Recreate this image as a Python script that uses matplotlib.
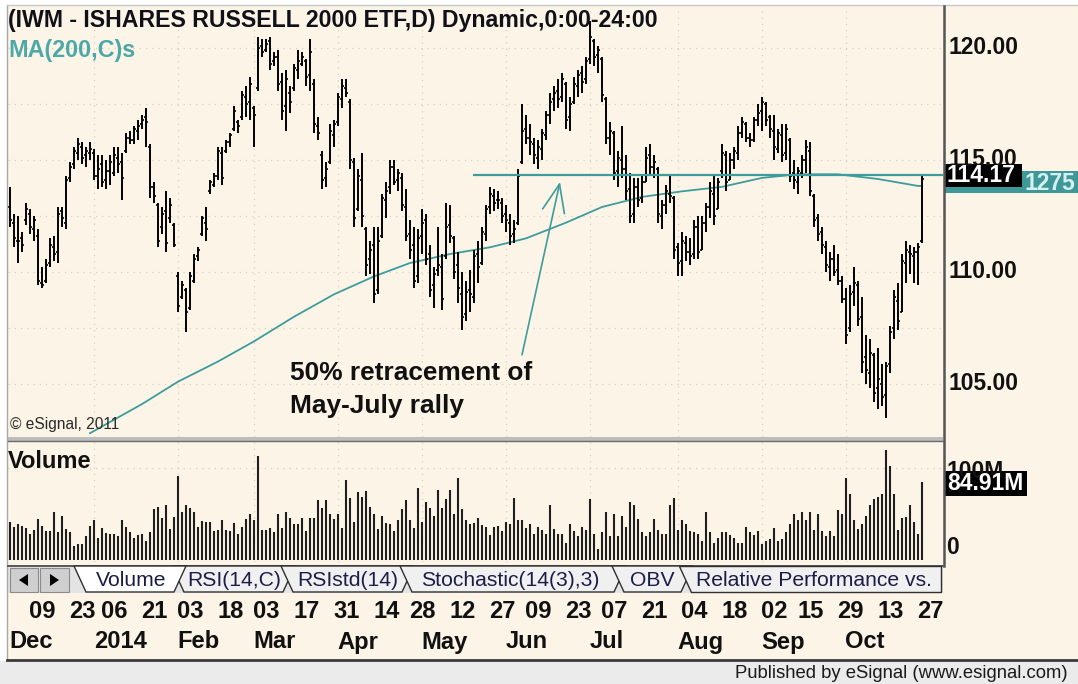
import numpy as np
import pandas as pd
import matplotlib
matplotlib.use('Agg')
import matplotlib.pyplot as plt
from matplotlib.patches import Rectangle, Polygon
from matplotlib.transforms import blended_transform_factory

# ---------------- data ----------------
holidays = ['2013-12-25', '2014-01-01', '2014-01-20', '2014-02-17', '2014-04-18',
            '2014-05-26', '2014-07-04', '2014-09-01']
dates = pd.bdate_range('2013-12-02', '2014-10-28', freq='C', holidays=holidays)

opens = [112.9,112.2,111.4,111.5,112.3,112.6,111.9,111.6,109.5,109.6,
         110.4,111.1,110.9,112.7,112.2,114.2,114.8,115.3,115.6,115.2,
         115.3,115.3,114.3,114.8,114.1,114.5,
         114.4,115.1,114.9,115.4,116.0,115.9,116.3,116.6,116.9,115.6,
         113.8,113.0,112.0,112.7,112.4,112.1,109.8,108.9,109.2,108.4,
         109.6,110.7,111.7,112.2,113.6,113.9,114.3,115.3,115.4,115.8,
         116.4,116.7,116.9,117.8,117.6,117.3,118.2,120.1,119.9,120.3,
         119.4,119.6,118.5,117.4,118.0,118.2,119.0,119.3,119.4,118.8,
         118.4,116.5,115.2,114.2,114.9,116.1,116.7,117.7,118.2,117.6,
         114.9,112.8,114.1,111.9,110.6,111.2,109.2,111.6,113.2,113.8,
         114.7,114.1,114.2,112.9,111.7,111.2,109.8,111.6,
         112.3,110.8,109.4,110.1,110.2,110.7,112.1,111.5,110.3,109.0,
         108.1,109.2,108.9,110.8,110.4,111.7,112.9,113.4,113.2,113.1,
         112.6,112.2,111.7,112.2,114.9,116.4,116.0,115.7,115.1,115.5,
         116.1,117.0,117.7,118.1,117.8,118.4,116.9,117.6,118.3,118.9,
         118.6,119.5,120.3,119.7,119.5,117.7,116.0,116.2,114.5,115.0,
         114.6,113.7,112.6,113.8,113.3,114.0,115.2,114.7,114.6,112.5,
         113.0,113.5,113.3,111.1,110.5,111.3,110.9,110.8,112.0,111.0,
         112.2,112.9,113.5,112.8,
         114.5,115.2,114.1,115.0,115.3,116.2,116.6,116.0,115.9,116.8,
         117.2,117.5,116.9,116.3,115.5,116.1,115.3,115.9,114.4,114.0,
         114.4,115.0,115.4,113.4,112.4,111.8,111.1,110.2,110.6,110.1,
         109.6,108.8,107.5,109.1,109.4,108.0,106.2,105.5,106.3,104.8,
         105.0,104.5,105.9,107.5,108.7,108.2,110.4,110.9,110.7,110.9,111.4]

highs = [113.8,112.6,112.5,111.8,113.1,112.8,112.5,111.9,110.2,110.6,
         111.5,111.6,112.9,112.9,114.3,114.9,115.6,116.0,115.8,115.6,
         115.8,115.5,115.2,115.2,115.0,115.2,
         115.6,115.6,115.3,116.2,116.3,116.5,116.8,117.0,117.3,115.7,
         114.0,113.1,112.9,113.6,113.3,112.2,110.0,109.6,109.3,110.0,
         110.8,111.1,112.5,112.9,114.1,114.4,115.6,115.6,115.9,116.2,
         117.4,116.8,118.1,118.3,118.7,117.4,120.5,120.4,120.4,120.5,
         119.8,119.9,118.9,119.0,118.3,119.3,119.9,119.8,119.5,120.4,
         118.6,116.9,115.4,114.9,116.6,116.8,118.0,118.6,118.6,117.7,
         115.1,114.6,115.3,112.0,111.4,112.0,112.0,113.5,114.0,115.0,
         115.0,114.6,114.4,113.7,112.3,112.0,111.9,112.8,
         112.6,111.2,110.2,112.0,110.8,113.1,113.0,111.6,110.9,110.0,
         109.6,110.1,111.0,111.4,112.0,113.0,113.8,113.7,113.6,113.3,
         113.0,112.6,112.3,114.6,117.5,117.0,116.6,116.0,115.9,116.4,
         117.2,118.0,118.3,118.6,118.9,118.5,117.8,118.7,119.0,119.2,
         119.6,121.2,120.4,120.1,119.6,117.8,116.7,116.3,115.4,116.5,
         115.2,114.4,114.2,114.2,114.3,115.6,115.7,115.2,114.7,113.2,
         113.9,114.3,113.4,111.3,111.8,111.6,111.5,112.3,112.5,112.5,
         113.1,114.0,114.3,114.2,
         115.7,115.4,115.3,115.6,116.5,116.9,116.7,116.2,116.9,117.5,
         117.8,117.6,117.0,117.0,116.4,116.6,116.6,116.0,115.0,114.7,
         115.2,115.9,115.8,113.5,112.6,112.0,111.4,110.9,111.2,110.8,
         109.8,109.3,109.4,110.2,109.6,108.9,107.2,107.0,106.4,106.6,
         105.9,106.0,107.6,109.2,109.5,110.8,111.4,111.2,111.1,111.3,114.3]

lows = [112.0,111.1,110.4,110.9,112.1,111.7,111.4,109.4,109.3,109.5,
        110.2,110.5,110.4,112.0,111.9,114.0,114.6,115.0,114.8,114.7,
        115.0,114.1,113.7,113.8,113.7,113.9,
        114.3,114.4,113.2,115.3,115.7,115.7,115.9,116.4,115.6,113.3,
        113.1,111.1,111.7,110.9,112.2,111.1,108.2,108.8,107.3,108.3,
        109.5,110.5,111.6,111.4,113.5,113.8,114.1,113.9,115.3,115.6,
        116.3,116.2,116.8,116.9,116.8,115.6,118.1,119.6,119.8,119.0,
        119.2,118.1,116.8,116.3,117.1,118.1,118.6,119.2,118.3,118.1,
        116.2,115.9,113.7,113.8,114.8,115.6,116.5,117.3,117.8,114.6,
        112.0,112.7,112.0,109.8,109.9,108.6,109.0,111.5,112.4,113.5,
        113.9,113.6,112.7,111.4,110.6,109.3,109.5,110.8,
        110.3,108.9,108.4,109.8,108.3,110.6,111.3,109.7,108.6,107.4,
        107.8,108.2,108.6,109.5,110.3,111.4,112.6,112.7,112.8,112.2,
        111.8,111.2,111.3,112.1,114.8,115.7,115.2,114.8,114.6,115.0,
        115.9,116.6,117.2,117.3,117.6,116.4,116.3,117.5,117.8,118.0,
        118.4,119.3,119.2,118.9,117.6,115.7,115.2,114.1,113.8,114.2,
        113.2,112.2,112.2,112.9,113.1,114.0,114.3,114.2,112.2,111.9,
        112.6,113.1,110.6,109.8,109.8,110.5,110.3,110.6,110.6,111.0,
        111.8,112.4,112.1,112.8,
        114.2,113.6,114.1,114.6,115.0,116.0,115.8,115.6,115.8,116.5,
        116.3,116.5,116.0,115.0,115.3,114.9,115.0,114.0,113.7,113.5,
        114.2,114.4,113.4,112.0,111.4,110.8,110.0,109.6,109.8,109.4,
        108.6,106.8,107.3,108.5,107.6,105.5,105.0,104.8,104.2,103.9,
        104.0,103.5,105.5,107.0,107.4,108.2,109.5,109.9,109.5,109.4,111.3]

closes = [112.3,111.5,111.4,111.2,112.8,112.0,112.3,109.6,109.4,110.3,
          111.2,110.8,112.6,112.4,114.1,114.7,115.4,115.7,115.1,115.4,
          115.5,114.3,114.6,114.0,114.5,114.9,
          115.2,114.8,114.2,116.0,115.9,116.4,116.5,116.8,116.7,113.8,
          113.4,111.4,112.6,111.3,113.0,111.2,108.5,109.4,108.2,109.8,
          110.6,111.0,112.4,111.9,114.0,114.3,115.4,114.2,115.8,116.1,
          117.2,116.5,117.9,117.5,118.4,117.0,120.0,119.8,120.2,119.3,
          119.6,118.4,117.2,118.6,117.6,119.1,119.4,119.6,118.7,119.8,
          116.6,116.2,114.1,114.6,116.3,116.6,117.8,118.3,118.0,115.0,
          112.4,114.3,112.5,110.3,111.0,109.0,111.4,113.3,113.6,114.7,
          114.0,114.4,113.0,111.6,111.0,109.6,111.5,112.2,
          110.6,109.2,109.9,110.3,108.8,112.0,111.6,110.0,109.3,108.0,
          109.1,109.0,110.7,110.2,111.8,112.8,113.5,113.1,113.2,112.5,
          112.3,111.6,111.9,114.3,116.3,116.0,115.8,115.2,115.6,116.2,
          117.0,117.6,118.0,117.7,118.6,116.8,117.5,118.4,118.8,118.5,
          119.4,120.5,119.6,119.9,117.9,116.0,116.3,114.4,115.1,114.6,
          113.6,112.5,113.8,113.2,114.0,115.1,114.7,114.9,112.6,113.0,
          113.6,113.4,111.0,110.4,111.4,110.9,110.7,112.0,110.9,112.2,
          112.9,113.6,112.5,114.0,
          115.3,114.0,115.0,115.4,116.2,116.7,116.0,115.9,116.8,117.1,
          117.6,116.8,116.4,115.6,116.2,115.2,116.4,114.3,114.1,114.5,
          115.0,115.6,113.6,112.3,111.7,111.2,110.3,110.6,110.0,109.6,
          108.8,107.2,109.0,109.5,107.9,106.0,105.6,106.4,104.6,105.2,
          104.4,105.8,107.3,108.9,107.8,110.5,111.0,110.8,110.9,111.1,114.17]

volumes = [41,36,39,37,35,28,33,45,37,31,31,52,30,48,34,
           30,
           15,17,17,
           26,37,43,24,35,29,28,28,26,43,36,30,24,27,28,21,30,
           56,58,46,60,34,47,91,52,
           60,57,52,36,42,41,
           41,31,33,43,33,31,40,28,36,45,50,44,
           113,
           33,33,35,30,
           50,35,52,46,39,39,46,31,46,46,65,57,65,50,45,50,35,
           87,67,41,74,69,75,58,50,34,48,40,
           39,32,43,56,65,44,35,78,41,
           63,57,48,76,57,66,76,50,89,55,43,39,40,46,38,
           36,27,36,37,31,41,39,67,44,43,35,
           39,28,36,33,28,60,34,28,28,18,39,32,26,36,33,66,
           28,12,30,52,26,50,26,48,36,63,60,45,30,
           26,
           30,45,33,28,28,60,67,33,43,
           39,32,30,28,21,52,30,19,24,30,
           30,27,24,18,19,36,30,27,32,17,21,23,
           35,21,23,30,39,50,44,52,43,52,33,50,31,26,
           31,26,54,50,89,72,43,34,39,48,60,66,69,72,120,102,72,33,46,47,60,41,28,84.91]

ma_dates = ['2013-12-31', '2014-01-06', '2014-01-21', '2014-02-03', '2014-02-18',
            '2014-03-03', '2014-03-17', '2014-03-31', '2014-04-14', '2014-04-28',
            '2014-05-12', '2014-05-27', '2014-06-09', '2014-06-23', '2014-07-07',
            '2014-07-21', '2014-08-04', '2014-08-18', '2014-09-02', '2014-09-15',
            '2014-09-29', '2014-10-13', '2014-10-27', '2014-10-28']
ma_values = [102.8, 103.1, 104.1, 105.1, 106.0, 106.9, 108.0, 109.0, 109.8, 110.4,
             110.8, 111.1, 111.5, 112.2, 112.9, 113.35, 113.6, 113.8, 114.2, 114.36,
             114.36, 114.15, 113.84, 113.84]

retrace_level = 114.35
retrace_start = '2014-05-20'

price_ticks = [120, 115, 110, 105]
price_tick_labels = ['120.00', '115.00', '110.00', '105.00']
last_price_label = '114.17'
last_volume_label = '84.91M'

day_tick_dates = ['2013-12-09', '2013-12-23', '2014-01-06', '2014-01-21', '2014-02-03',
                  '2014-02-18', '2014-03-03', '2014-03-17', '2014-03-31', '2014-04-14',
                  '2014-04-28', '2014-05-12', '2014-05-27', '2014-06-09', '2014-06-23',
                  '2014-07-07', '2014-07-21', '2014-08-04', '2014-08-18', '2014-09-02',
                  '2014-09-15', '2014-09-29', '2014-10-13', '2014-10-27']
month_tick_dates = ['2013-12-02', '2014-01-02', '2014-02-03', '2014-03-03', '2014-04-01',
                    '2014-05-01', '2014-06-02', '2014-07-01', '2014-08-01', '2014-09-02',
                    '2014-10-01']
month_tick_labels = ['Dec', '2014', 'Feb', 'Mar', 'Apr', 'May', 'Jun', 'Jul', 'Aug', 'Sep', 'Oct']

tab_labels = ['Volume', 'RSI(14,C)', 'RSIstd(14)', 'Stochastic(14(3),3)', 'OBV',
              'Relative Performance vs.']

# ---------------- style ----------------
W, H = 1078, 684
CREAM = '#FCF5E7'
TEAL = '#3E9C9C'
FONT = 'Liberation Sans'
INK = '#111111'
GRID = '#D9D0BF'

fig = plt.figure(figsize=(W / 100, H / 100), dpi=100)
fig.patch.set_facecolor('white')
R = fig.canvas.get_renderer()


def rect(x0, y0, x1, y1):
    return [x0 / W, 1 - y1 / H, (x1 - x0) / W, (y1 - y0) / H]


def idx(d):
    return dates.get_loc(pd.Timestamp(d))


def fit(t, width):
    w = t.get_window_extent(renderer=R).width
    t.set_fontsize(t.get_fontsize() * width / w)
    return t.get_fontsize()


# background (pixel coordinates)
bg = fig.add_axes([0, 0, 1, 1])
bg.set_xlim(0, W)
bg.set_ylim(H, 0)
bg.axis('off')
bg.add_patch(Rectangle((7, 5), W - 7, 656, fc=CREAM, ec='none'))
bg.add_patch(Rectangle((8, 565), 935, 28, fc='#E4E4E4', ec='none'))
bg.add_patch(Rectangle((0, 661), W, H - 661, fc='#EBEBEB', ec='none'))

xs = np.arange(len(dates))
x_left, x_right = -0.5, 233.25

# ---------------- price panel ----------------
ax = fig.add_axes(rect(8, 7, 943, 437))
ax.set_facecolor(CREAM)
ax.set_xlim(x_left, x_right)
ax.set_ylim(102.63, 121.83)
for s in ax.spines.values():
    s.set_visible(False)
ax.set_xticks([])
ax.set_yticks([])

month_idx = [idx(d) for d in month_tick_dates]
for lv in [105, 107.5, 110, 112.5, 115, 117.5, 120]:
    ax.axhline(lv, color=GRID, lw=0.9, ls=(0, (1, 4)), zorder=1)
for m in month_idx[1:]:
    ax.axvline(m, color=GRID, lw=0.9, ls=(0, (1, 4)), zorder=1)

ma_x = [idx(d) for d in ma_dates]
ax.plot(ma_x, ma_values, color=TEAL, lw=1.3, zorder=2)

ax.vlines(xs, lows, highs, color='black', lw=1.4, zorder=3)
ax.hlines(opens, xs - 0.5, xs, color='black', lw=1.2, zorder=3)
ax.hlines(closes, xs, xs + 0.5, color='black', lw=1.2, zorder=3)

ax.hlines(retrace_level, idx(retrace_start) - 0.3, x_right, color=TEAL, lw=1.6, zorder=4)

ax.annotate('', xy=(137.5, 114.02), xytext=(128.0, 106.3),
            arrowprops=dict(arrowstyle='->,head_length=2.0,head_width=0.8',
                            color=TEAL, lw=1.2, shrinkA=0, shrinkB=0), zorder=5)

# ---------------- volume panel ----------------
axv = fig.add_axes(rect(8, 441, 943, 562))
axv.set_facecolor(CREAM)
axv.set_xlim(x_left, x_right)
axv.set_ylim(-2.2, 129.5)
for s in axv.spines.values():
    s.set_visible(False)
axv.set_xticks([])
axv.set_yticks([])
axv.axhline(100, color=GRID, lw=0.9, ls=(0, (1, 4)), zorder=1)
for m in month_idx[1:]:
    axv.axvline(m, color=GRID, lw=0.9, ls=(0, (1, 4)), zorder=1)
axv.vlines(xs, 0, volumes, color='#1E1E1E', lw=1.5, zorder=3)

# ---------------- overlay ----------------
ov = fig.add_axes([0, 0, 1, 1], zorder=10)
ov.set_xlim(0, W)
ov.set_ylim(H, 0)
ov.axis('off')
ov.patch.set_alpha(0)

# frame lines
ov.plot([7, 7], [5, 660], color='#A8A8A8', lw=1)
ov.plot([7, W], [5, 5], color='#C8C8C8', lw=1)
ov.add_patch(Rectangle((8, 436.5), 935, 4, fc='#BDBDBD', ec='none'))
ov.plot([8, 943], [440.5, 440.5], color='#6A6A6A', lw=1)
ov.plot([943.5, 943.5], [6, 566], color='#555555', lw=1.8)
ov.plot([8, 943], [565.5, 565.5], color='#404040', lw=1.2)
ov.plot([7, W], [660, 660], color='#3A3A3A', lw=2)

# title
t = ov.text(8, 21, '(IWM - ISHARES RUSSELL 2000 ETF,D) Dynamic,0:00-24:00', fontsize=15,
            family=FONT, weight='bold', color='#101018', va='center', ha='left')
fit(t, 654)
t = ov.text(8, 50, 'MA(200,C)s', fontsize=15, family=FONT, weight='bold',
            color='#4DA8A8', va='center', ha='left')
fit(t, 128)
t = ov.text(10, 424, '\u00a9 eSignal, 2011', fontsize=8, family=FONT, color='#2A2A2A',
            va='center', ha='left')
fit(t, 110)

# annotation text
t1 = ov.text(290, 373, '50% retracement of', fontsize=18, family=FONT, weight='bold',
             color=INK, va='center', ha='left')
fs = fit(t1, 243)
ov.text(290, 406, 'May-July rally', fontsize=fs, family=FONT, weight='bold',
        color=INK, va='center', ha='left')

# price axis labels
tp = blended_transform_factory(ov.transData, ax.transData)
pfs = None
for v, lab in zip(price_ticks, price_tick_labels):
    t = ov.text(948, v, lab, transform=tp, fontsize=16, family=FONT, weight='bold',
                color=INK, va='center', ha='left')
    if pfs is None:
        pfs = fit(t, 70)
    else:
        t.set_fontsize(pfs)

ov.add_patch(Rectangle((945, 171), W - 945, 22, fc='#3E9898', ec='none'))
ov.text(1024, 183, '1275', fontsize=pfs, family=FONT, weight='bold', color='#D6EFEF',
        va='center', ha='left')
ov.add_patch(Rectangle((945, 164), 77, 23, fc='black', ec='none'))
ov.text(947, 176, last_price_label, fontsize=pfs, family=FONT, weight='bold',
        color='white', va='center', ha='left')

# volume labels
t = ov.text(8, 462, 'Volume', fontsize=15, family=FONT, weight='bold', color=INK,
            va='center', ha='left')
fit(t, 84)
ov.text(946, 471, '100M', fontsize=pfs, family=FONT, weight='bold', color=INK,
        va='center', ha='left')
ov.add_patch(Rectangle((945, 471), 82, 25, fc='black', ec='none'))
ov.text(947, 484, last_volume_label, fontsize=pfs, family=FONT, weight='bold',
        color='white', va='center', ha='left')
ov.text(946, 548, '0', fontsize=pfs, family=FONT, weight='bold', color=INK,
        va='center', ha='left')

# tab row
ov.add_patch(Rectangle((10, 568), 28, 24, fc='#CFCFCF', ec='#8A8A8A', lw=0.8))
ov.add_patch(Rectangle((40, 568), 29, 24, fc='#CFCFCF', ec='#8A8A8A', lw=0.8))
ov.add_patch(Polygon([(19, 580), (28, 574), (28, 586)], closed=True, fc='black'))
ov.add_patch(Polygon([(59, 580), (50, 574), (50, 586)], closed=True, fc='black'))
tab_left = [74, 172, 281, 400, 612, 679]
tab_text_x = [96, 187, 297, 421, 630, 696]
tab_polys = []
for k in range(len(tab_labels)):
    xl = tab_left[k]
    if k + 1 < len(tab_left):
        xr = tab_left[k + 1] + 14
        poly = [(xl, 566), (xr, 566), (xr - 12, 592), (xl + 12, 592)]
    else:
        poly = [(xl, 566), (941, 566), (941, 592), (xl + 12, 592)]
    tab_polys.append(poly)
order = list(range(1, len(tab_labels))) + [0]
for k in order:
    fc = 'white' if k == 0 else '#F0F0F0'
    ov.add_patch(Polygon(tab_polys[k], closed=True, fc=fc, ec='#303030', lw=1.0,
                         zorder=2 + (5 if k == 0 else 0)))
tab_texts = []
for k, lab in enumerate(tab_labels):
    t = ov.text(tab_text_x[k], 580, lab, fontsize=13, family=FONT, color='#1C1C48',
                va='center', ha='left', zorder=8)
    tab_texts.append(t)
tfs = fit(tab_texts[-1], 236)
for tt in tab_texts:
    tt.set_fontsize(tfs)

# date labels
td = blended_transform_factory(ax.transData, ov.transData)
t = ov.text(idx(month_tick_dates[1]), 642, month_tick_labels[1], transform=td, fontsize=16,
            family=FONT, weight='bold', color=INK, va='center', ha='left')
dfs = fit(t, 53)
for d, lab in zip(month_tick_dates, month_tick_labels):
    if lab == month_tick_labels[1]:
        continue
    ov.text(idx(d) - 0.2, 642, lab, transform=td, fontsize=dfs, family=FONT, weight='bold',
            color=INK, va='center', ha='left')
for d in day_tick_dates:
    ov.text(idx(d) - 0.2, 612, pd.Timestamp(d).strftime('%d'), transform=td, fontsize=dfs,
            family=FONT, weight='bold', color=INK, va='center', ha='left')

# footer
t = ov.text(1068, 673, 'Published by eSignal (www.esignal.com)', fontsize=12, family=FONT,
            color='#1A1A1A', va='center', ha='right')
fit(t, 333)

fig.savefig('out.png', dpi=100, facecolor=fig.get_facecolor())
